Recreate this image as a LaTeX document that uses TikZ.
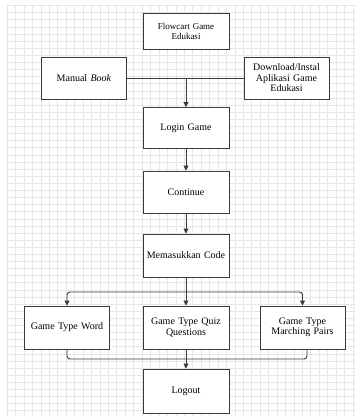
\documentclass[tikz,border=0pt]{standalone}
\usepackage{fontspec}
\setmainfont{Liberation Serif}
\usetikzlibrary{arrows.meta}
\definecolor{gridc}{HTML}{E6E6E6}
\definecolor{linec}{HTML}{3A3A3A}
\begin{document}
\begin{tikzpicture}[x=1pt,y=-1pt,
  box/.style={draw=linec,line width=0.9pt,fill=white,minimum width=85pt,minimum height=42pt,
    align=center,text width=84pt,inner sep=0pt,font=\fontsize{10}{10.5}\selectfont},
  conn/.style={draw=linec,line width=0.9pt},
  arr/.style={conn,-{Triangle[length=5pt,width=5pt]}}]
\useasboundingbox (0,0) rectangle (356,418);
% grid
\foreach \k in {0,...,41} {
  \draw[gridc,line width=0.8pt] ({7.3+8.43*\k},5.6) -- ({7.3+8.43*\k},416.7);
}
\foreach \k in {0,...,57} {
  \draw[gridc,line width=0.8pt] (7.3,{5.6+7.11*\k}) -- (356,{5.6+7.11*\k});
}
% nodes
\node[box,minimum width=86pt,minimum height=36pt,font=\fontsize{9}{10}\selectfont] (title) at (186,31) {Flowcart Game\\Edukasi};
\node[box] (mb) at (84,78) {Manual \textit{Book}};
\node[box] (dl) at (286.5,78) {Download/Instal\\Aplikasi Game\\Edukasi};
\node[box,minimum width=86pt,minimum height=41pt] (login) at (186,128) {Login Game};
\node[box,minimum width=86pt] (cont) at (186,192) {Continue};
\node[box,minimum width=86pt,minimum height=43pt] (mc) at (186,255.5) {Memasukkan Code};
\node[box,minimum height=43pt] (word) at (67,327.5) {Game Type Word};
\node[box,minimum width=86pt,minimum height=43pt] (quiz) at (186,327.5) {Game Type Quiz\\Questions};
\node[box,minimum height=43pt] (mp) at (302.5,327.5) {Game Type\\Marching Pairs};
\node[box,minimum width=86pt,minimum height=44pt] (logout) at (186,391) {Logout};
% connectors
\draw[conn] (mb.east) -- (dl.west);
\draw[arr] (mb.east -| login.north) -- (login.north);
\draw[arr] (login.south) -- (cont.north);
\draw[arr] (cont.south) -- (mc.north);
\coordinate (split) at (186,292);
\draw[arr] (mc.south) -- (quiz.north);
\draw[arr,rounded corners=3pt] (split) -| (word.north);
\draw[arr,rounded corners=3pt] (split) -| (mp.north);
\coordinate (merge) at (186,359);
\coordinate (mpout) at (307,349);
\draw[conn,rounded corners=3pt] (word.south) |- (merge) -| (mpout);
\draw[arr] (quiz.south) -- (logout.north);
\end{tikzpicture}
\end{document}
